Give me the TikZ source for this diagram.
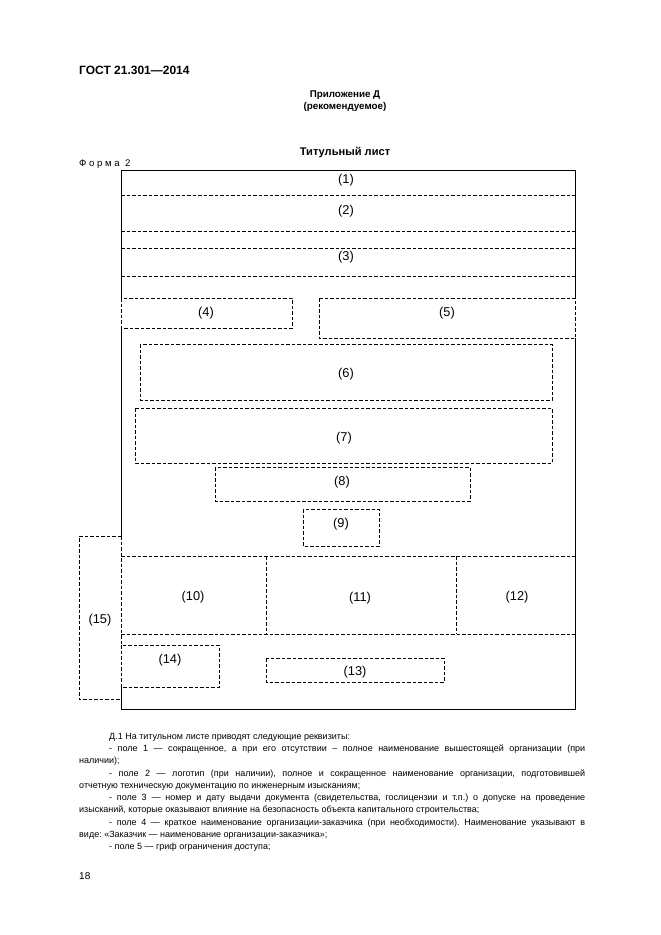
\documentclass[tikz,border=0pt]{standalone}
\usepackage{fontspec}
\setmainfont{Liberation Sans}
\usetikzlibrary{positioning}
\frenchspacing
\tikzset{
    field/.style={draw, dash pattern=on 3.5pt off 2pt, line width=0.8pt},
    frameline/.style={draw, line width=0.9pt},
    num/.style={font=\fontsize{12.8}{14}\selectfont, inner sep=0pt},
}
\begin{document}
\begin{tikzpicture}[x=1pt, y=-1pt]
            \useasboundingbox (0,0) rectangle (661,935);
            % head of the page
            \node[anchor=west, font=\bfseries\fontsize{12}{14}\selectfont, inner sep=0pt] (gost) at (79,70) {ГОСТ 21.301—2014};
            \node[font=\bfseries\fontsize{9.8}{11.5}\selectfont, align=center, inner sep=0pt] (annex) at (345,101) {Приложение Д\\(рекомендуемое)};
            \node[font=\bfseries\fontsize{11.1}{13}\selectfont, inner sep=0pt] (title) at (345,153) {Титульный лист};
            \node[anchor=west, font=\fontsize{9.6}{11}\selectfont, inner sep=0pt] (forma) at (79,164) {Ф о р м а \ 2};
            % frame of the sheet
            \coordinate (tl) at (121,170);
            \coordinate (tr) at (575,170);
            \coordinate (bl) at (121,709);
            \coordinate (br) at (575,709);
            \draw[frameline] (121,298) -- (tl) -- (tr) -- (575,298);
            \draw[frameline] (575,338) -- (br) -- (bl) -- (121,687);
            \draw[frameline] (121,328) -- (121,536);
            % rows across the sheet
            \draw[field] (121,195) -- (575,195);
            \draw[field] (121,231) -- (575,231);
            \draw[field] (121,248) -- (575,248);
            \draw[field] (121,276) -- (575,276);
            \node[num] (f1) at (346,180) {(1)};
            \node[num] (f2) at (346,211) {(2)};
            \node[num] (f3) at (346,257) {(3)};
            % boxes
            \draw[field] (121,298) rectangle (292,328);
            \node[num] (f4) at (206,313) {(4)};
            \draw[field] (319,298) rectangle (575,338);
            \node[num] (f5) at (447,313) {(5)};
            \draw[field] (140,344) rectangle (552,400);
            \node[num] (f6) at (346,374) {(6)};
            \draw[field] (135,408) rectangle (552,463);
            \node[num] (f7) at (344,438) {(7)};
            \draw[field] (215,467) rectangle (470,501);
            \node[num] (f8) at (342,482) {(8)};
            \draw[field] (303,509) rectangle (379,546);
            \node[num] (f9) at (341,524) {(9)};
            % row of three fields
            \draw[field] (121,556) -- (575,556);
            \draw[field] (121,634) -- (575,634);
            \draw[field] (266,556) -- (266,634);
            \draw[field] (456,556) -- (456,634);
            \node[num] (f10) at (193,597) {(10)};
            \node[num] (f11) at (360,598) {(11)};
            \node[num] (f12) at (517,597) {(12)};
            \draw[field] (121,645) rectangle (219,687);
            \node[num] (f14) at (170,660) {(14)};
            \draw[field] (266,658) rectangle (444,682);
            \node[num] (f13) at (355,672) {(13)};
            \draw[field] (121,536) -- (79,536) -- (79,699) -- (121,699);
            \draw[field] (121,536) -- (121,645);
            \node[num] (f15) at (100,620) {(15)};
            % explanatory text
            \node[anchor=north west, text width=506pt, align=justify, inner sep=0pt,
                  font=\fontsize{9.0}{12.25}\selectfont] (notes) at (79,733) {%
                \hspace*{30pt}Д.1 На титульном листе приводят следующие реквизиты:\par
                \hspace*{30pt}- поле 1 — сокращенное, а при его отсутствии – полное наименование вышестоящей организации (при\linebreak наличии);\par
                \hspace*{30pt}- поле 2 — логотип (при наличии), полное и сокращенное наименование организации, подготовившей\linebreak отчетную техническую документацию по инженерным изысканиям;\par
                \hspace*{30pt}- поле 3 — номер и дату выдачи документа (свидетельства, гослицензии и т.п.) о допуске на проведение\linebreak изысканий, которые оказывают влияние на безопасность объекта капитального строительства;\par
                \hspace*{30pt}- поле 4 — краткое наименование организации-заказчика (при необходимости). Наименование указывают в\linebreak виде: «Заказчик — наименование организации-заказчика»;\par
                \hspace*{30pt}- поле 5 — гриф ограничения доступа;\par};
            \node[anchor=west, font=\fontsize{10}{12}\selectfont, inner sep=0pt] (page) at (79,876) {18};
\end{tikzpicture}
\end{document}
